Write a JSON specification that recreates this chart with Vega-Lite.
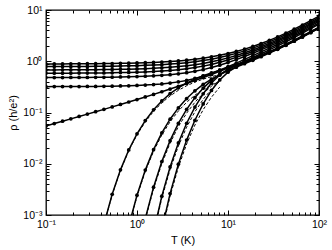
{
 "$schema": "https://vega.github.io/schema/vega-lite/v6.json",
 "width": 273, "height": 205,
 "autosize": {"type": "none"},
 "padding": {"left": 46, "top": 10, "right": 13, "bottom": 35},
 "background": "white",
 "config": {"view": {"stroke": "black", "strokeWidth": 1.3}, "font": "Liberation Sans"},
 "datasets": {
  "curves": [
{"c":0,"T":0.1,"r":0.886},{"c":0,"T":0.1233,"r":0.887},{"c":0,"T":0.152,"r":0.888},{"c":0,"T":0.1874,"r":0.890},{"c":0,"T":0.231,"r":0.891},{"c":0,"T":0.2848,"r":0.894},{"c":0,"T":0.3511,"r":0.896},{"c":0,"T":0.4329,"r":0.900},{"c":0,"T":0.5337,"r":0.904},{"c":0,"T":0.6579,"r":0.910},{"c":0,"T":0.8111,"r":0.916},{"c":0,"T":1,"r":0.925},{"c":0,"T":1.233,"r":0.936},{"c":0,"T":1.52,"r":0.950},{"c":0,"T":1.874,"r":0.967},{"c":0,"T":2.31,"r":0.989},{"c":0,"T":2.848,"r":1.016},{"c":0,"T":3.511,"r":1.051},{"c":0,"T":4.329,"r":1.094},{"c":0,"T":5.337,"r":1.149},{"c":0,"T":6.579,"r":1.218},{"c":0,"T":8.111,"r":1.304},{"c":0,"T":10,"r":1.413},{"c":0,"T":12.33,"r":1.551},{"c":0,"T":15.2,"r":1.724},{"c":0,"T":18.74,"r":1.941},{"c":0,"T":23.1,"r":2.216},{"c":0,"T":28.48,"r":2.560},{"c":0,"T":35.11,"r":2.992},{"c":0,"T":43.29,"r":3.540},{"c":0,"T":53.37,"r":4.232},{"c":0,"T":65.79,"r":5.095},{"c":0,"T":81.11,"r":6.192},{"c":0,"T":100,"r":7.557},
{"c":1,"T":0.1,"r":0.786},{"c":1,"T":0.1233,"r":0.787},{"c":1,"T":0.152,"r":0.788},{"c":1,"T":0.1874,"r":0.789},{"c":1,"T":0.231,"r":0.790},{"c":1,"T":0.2848,"r":0.792},{"c":1,"T":0.3511,"r":0.795},{"c":1,"T":0.4329,"r":0.798},{"c":1,"T":0.5337,"r":0.802},{"c":1,"T":0.6579,"r":0.807},{"c":1,"T":0.8111,"r":0.813},{"c":1,"T":1,"r":0.821},{"c":1,"T":1.233,"r":0.831},{"c":1,"T":1.52,"r":0.843},{"c":1,"T":1.874,"r":0.859},{"c":1,"T":2.31,"r":0.880},{"c":1,"T":2.848,"r":0.905},{"c":1,"T":3.511,"r":0.938},{"c":1,"T":4.329,"r":0.979},{"c":1,"T":5.337,"r":1.032},{"c":1,"T":6.579,"r":1.099},{"c":1,"T":8.111,"r":1.184},{"c":1,"T":10,"r":1.291},{"c":1,"T":12.33,"r":1.425},{"c":1,"T":15.2,"r":1.592},{"c":1,"T":18.74,"r":1.801},{"c":1,"T":23.1,"r":2.065},{"c":1,"T":28.48,"r":2.391},{"c":1,"T":35.11,"r":2.800},{"c":1,"T":43.29,"r":3.318},{"c":1,"T":53.37,"r":3.971},{"c":1,"T":65.79,"r":4.783},{"c":1,"T":81.11,"r":5.815},{"c":1,"T":100,"r":7.099},
{"c":2,"T":0.1,"r":0.678},{"c":2,"T":0.1233,"r":0.678},{"c":2,"T":0.152,"r":0.679},{"c":2,"T":0.1874,"r":0.680},{"c":2,"T":0.231,"r":0.681},{"c":2,"T":0.2848,"r":0.683},{"c":2,"T":0.3511,"r":0.685},{"c":2,"T":0.4329,"r":0.688},{"c":2,"T":0.5337,"r":0.691},{"c":2,"T":0.6579,"r":0.695},{"c":2,"T":0.8111,"r":0.701},{"c":2,"T":1,"r":0.708},{"c":2,"T":1.233,"r":0.717},{"c":2,"T":1.52,"r":0.729},{"c":2,"T":1.874,"r":0.743},{"c":2,"T":2.31,"r":0.762},{"c":2,"T":2.848,"r":0.786},{"c":2,"T":3.511,"r":0.817},{"c":2,"T":4.329,"r":0.857},{"c":2,"T":5.337,"r":0.908},{"c":2,"T":6.579,"r":0.975},{"c":2,"T":8.111,"r":1.059},{"c":2,"T":10,"r":1.164},{"c":2,"T":12.33,"r":1.297},{"c":2,"T":15.2,"r":1.461},{"c":2,"T":18.74,"r":1.663},{"c":2,"T":23.1,"r":1.916},{"c":2,"T":28.48,"r":2.228},{"c":2,"T":35.11,"r":2.616},{"c":2,"T":43.29,"r":3.106},{"c":2,"T":53.37,"r":3.721},{"c":2,"T":65.79,"r":4.487},{"c":2,"T":81.11,"r":5.458},{"c":2,"T":100,"r":6.667},
{"c":3,"T":0.1,"r":0.584},{"c":3,"T":0.1233,"r":0.585},{"c":3,"T":0.152,"r":0.586},{"c":3,"T":0.1874,"r":0.586},{"c":3,"T":0.231,"r":0.588},{"c":3,"T":0.2848,"r":0.589},{"c":3,"T":0.3511,"r":0.591},{"c":3,"T":0.4329,"r":0.593},{"c":3,"T":0.5337,"r":0.596},{"c":3,"T":0.6579,"r":0.600},{"c":3,"T":0.8111,"r":0.604},{"c":3,"T":1,"r":0.611},{"c":3,"T":1.233,"r":0.620},{"c":3,"T":1.52,"r":0.630},{"c":3,"T":1.874,"r":0.643},{"c":3,"T":2.31,"r":0.661},{"c":3,"T":2.848,"r":0.684},{"c":3,"T":3.511,"r":0.713},{"c":3,"T":4.329,"r":0.752},{"c":3,"T":5.337,"r":0.803},{"c":3,"T":6.579,"r":0.868},{"c":3,"T":8.111,"r":0.952},{"c":3,"T":10,"r":1.058},{"c":3,"T":12.33,"r":1.190},{"c":3,"T":15.2,"r":1.351},{"c":3,"T":18.74,"r":1.550},{"c":3,"T":23.1,"r":1.795},{"c":3,"T":28.48,"r":2.095},{"c":3,"T":35.11,"r":2.467},{"c":3,"T":43.29,"r":2.935},{"c":3,"T":53.37,"r":3.521},{"c":3,"T":65.79,"r":4.249},{"c":3,"T":81.11,"r":5.172},{"c":3,"T":100,"r":6.319},
{"c":4,"T":0.1,"r":0.480},{"c":4,"T":0.1233,"r":0.480},{"c":4,"T":0.152,"r":0.481},{"c":4,"T":0.1874,"r":0.482},{"c":4,"T":0.231,"r":0.483},{"c":4,"T":0.2848,"r":0.484},{"c":4,"T":0.3511,"r":0.485},{"c":4,"T":0.4329,"r":0.487},{"c":4,"T":0.5337,"r":0.490},{"c":4,"T":0.6579,"r":0.493},{"c":4,"T":0.8111,"r":0.498},{"c":4,"T":1,"r":0.503},{"c":4,"T":1.233,"r":0.510},{"c":4,"T":1.52,"r":0.520},{"c":4,"T":1.874,"r":0.532},{"c":4,"T":2.31,"r":0.548},{"c":4,"T":2.848,"r":0.569},{"c":4,"T":3.511,"r":0.598},{"c":4,"T":4.329,"r":0.636},{"c":4,"T":5.337,"r":0.686},{"c":4,"T":6.579,"r":0.752},{"c":4,"T":8.111,"r":0.836},{"c":4,"T":10,"r":0.943},{"c":4,"T":12.33,"r":1.075},{"c":4,"T":15.2,"r":1.235},{"c":4,"T":18.74,"r":1.430},{"c":4,"T":23.1,"r":1.669},{"c":4,"T":28.48,"r":1.959},{"c":4,"T":35.11,"r":2.315},{"c":4,"T":43.29,"r":2.761},{"c":4,"T":53.37,"r":3.319},{"c":4,"T":65.79,"r":4.010},{"c":4,"T":81.11,"r":4.885},{"c":4,"T":100,"r":5.972},
{"c":5,"T":0.1,"r":0.319},{"c":5,"T":0.1233,"r":0.320},{"c":5,"T":0.152,"r":0.320},{"c":5,"T":0.1874,"r":0.320},{"c":5,"T":0.231,"r":0.321},{"c":5,"T":0.2848,"r":0.322},{"c":5,"T":0.3511,"r":0.323},{"c":5,"T":0.4329,"r":0.325},{"c":5,"T":0.5337,"r":0.327},{"c":5,"T":0.6579,"r":0.329},{"c":5,"T":0.8111,"r":0.332},{"c":5,"T":1,"r":0.337},{"c":5,"T":1.233,"r":0.343},{"c":5,"T":1.52,"r":0.350},{"c":5,"T":1.874,"r":0.361},{"c":5,"T":2.31,"r":0.376},{"c":5,"T":2.848,"r":0.396},{"c":5,"T":3.511,"r":0.423},{"c":5,"T":4.329,"r":0.461},{"c":5,"T":5.337,"r":0.512},{"c":5,"T":6.579,"r":0.581},{"c":5,"T":8.111,"r":0.670},{"c":5,"T":10,"r":0.783},{"c":5,"T":12.33,"r":0.921},{"c":5,"T":15.2,"r":1.087},{"c":5,"T":18.74,"r":1.284},{"c":5,"T":23.1,"r":1.521},{"c":5,"T":28.48,"r":1.805},{"c":5,"T":35.11,"r":2.149},{"c":5,"T":43.29,"r":2.577},{"c":5,"T":53.37,"r":3.108},{"c":5,"T":65.79,"r":3.764},{"c":5,"T":81.11,"r":4.592},{"c":5,"T":100,"r":5.619},
{"c":6,"T":0.1,"r":0.0547},{"c":6,"T":0.1233,"r":0.0608},{"c":6,"T":0.152,"r":0.0676},{"c":6,"T":0.1874,"r":0.0751},{"c":6,"T":0.231,"r":0.0836},{"c":6,"T":0.2848,"r":0.0930},{"c":6,"T":0.3511,"r":0.1035},{"c":6,"T":0.4329,"r":0.1152},{"c":6,"T":0.5337,"r":0.1286},{"c":6,"T":0.6579,"r":0.1435},{"c":6,"T":0.8111,"r":0.1603},{"c":6,"T":1,"r":0.1793},{"c":6,"T":1.233,"r":0.2009},{"c":6,"T":1.52,"r":0.2257},{"c":6,"T":1.874,"r":0.2540},{"c":6,"T":2.31,"r":0.2867},{"c":6,"T":2.848,"r":0.3245},{"c":6,"T":3.511,"r":0.3684},{"c":6,"T":4.329,"r":0.4197},{"c":6,"T":5.337,"r":0.4803},{"c":6,"T":6.579,"r":0.5521},{"c":6,"T":8.111,"r":0.6371},{"c":6,"T":10,"r":0.7385},{"c":6,"T":12.33,"r":0.8604},{"c":6,"T":15.2,"r":1.006},{"c":6,"T":18.74,"r":1.183},{"c":6,"T":23.1,"r":1.401},{"c":6,"T":28.48,"r":1.664},{"c":6,"T":35.11,"r":1.989},{"c":6,"T":43.29,"r":2.397},{"c":6,"T":53.37,"r":2.904},{"c":6,"T":65.79,"r":3.530},{"c":6,"T":81.11,"r":4.320},{"c":6,"T":100,"r":5.304},
{"c":7,"T":0.4329,"r":0.000658},{"c":7,"T":0.5337,"r":0.00254},{"c":7,"T":0.6579,"r":0.0076},{"c":7,"T":0.8111,"r":0.01856},{"c":7,"T":1,"r":0.0384},{"c":7,"T":1.233,"r":0.0696},{"c":7,"T":1.52,"r":0.1131},{"c":7,"T":1.874,"r":0.1681},{"c":7,"T":2.31,"r":0.2326},{"c":7,"T":2.848,"r":0.3029},{"c":7,"T":3.511,"r":0.3755},{"c":7,"T":4.329,"r":0.4480},{"c":7,"T":5.337,"r":0.5199},{"c":7,"T":6.579,"r":0.5927},{"c":7,"T":8.111,"r":0.6696},{"c":7,"T":10,"r":0.7542},{"c":7,"T":12.33,"r":0.8523},{"c":7,"T":15.2,"r":0.9674},{"c":7,"T":18.74,"r":1.107},{"c":7,"T":23.1,"r":1.280},{"c":7,"T":28.48,"r":1.492},{"c":7,"T":35.11,"r":1.757},{"c":7,"T":43.29,"r":2.091},{"c":7,"T":53.37,"r":2.512},{"c":7,"T":65.79,"r":3.035},{"c":7,"T":81.11,"r":3.699},{"c":7,"T":100,"r":4.525},
{"c":8,"T":0.8111,"r":0.000609},{"c":8,"T":1,"r":0.002433},{"c":8,"T":1.233,"r":0.007512},{"c":8,"T":1.52,"r":0.01882},{"c":8,"T":1.874,"r":0.03989},{"c":8,"T":2.31,"r":0.0739},{"c":8,"T":2.848,"r":0.1229},{"c":8,"T":3.511,"r":0.1870},{"c":8,"T":4.329,"r":0.2648},{"c":8,"T":5.337,"r":0.3529},{"c":8,"T":6.579,"r":0.4480},{"c":8,"T":8.111,"r":0.5481},{"c":8,"T":10,"r":0.6535},{"c":8,"T":12.33,"r":0.7680},{"c":8,"T":15.2,"r":0.8958},{"c":8,"T":18.74,"r":1.045},{"c":8,"T":23.1,"r":1.224},{"c":8,"T":28.48,"r":1.440},{"c":8,"T":35.11,"r":1.707},{"c":8,"T":43.29,"r":2.042},{"c":8,"T":53.37,"r":2.460},{"c":8,"T":65.79,"r":2.981},{"c":8,"T":81.11,"r":3.640},{"c":8,"T":100,"r":4.460},
{"c":9,"T":1.233,"r":0.000852},{"c":9,"T":1.52,"r":0.003491},{"c":9,"T":1.874,"r":0.01102},{"c":9,"T":2.31,"r":0.02823},{"c":9,"T":2.848,"r":0.06108},{"c":9,"T":3.511,"r":0.1153},{"c":9,"T":4.329,"r":0.1950},{"c":9,"T":5.337,"r":0.2995},{"c":9,"T":6.579,"r":0.4228},{"c":9,"T":8.111,"r":0.5543},{"c":9,"T":10,"r":0.6860},{"c":9,"T":12.33,"r":0.8193},{"c":9,"T":15.2,"r":0.9583},{"c":9,"T":18.74,"r":1.116},{"c":9,"T":23.1,"r":1.301},{"c":9,"T":28.48,"r":1.524},{"c":9,"T":35.11,"r":1.799},{"c":9,"T":43.29,"r":2.143},{"c":9,"T":53.37,"r":2.575},{"c":9,"T":65.79,"r":3.111},{"c":9,"T":81.11,"r":3.790},{"c":9,"T":100,"r":4.637},
{"c":10,"T":1.52,"r":0.000464},{"c":10,"T":1.874,"r":0.002331},{"c":10,"T":2.31,"r":0.008669},{"c":10,"T":2.848,"r":0.02545},{"c":10,"T":3.511,"r":0.0616},{"c":10,"T":4.329,"r":0.1277},{"c":10,"T":5.337,"r":0.2322},{"c":10,"T":6.579,"r":0.3750},{"c":10,"T":8.111,"r":0.5376},{"c":10,"T":10,"r":0.6949},{"c":10,"T":12.33,"r":0.8388},{"c":10,"T":15.2,"r":0.9794},{"c":10,"T":18.74,"r":1.132},{"c":10,"T":23.1,"r":1.312},{"c":10,"T":28.48,"r":1.528},{"c":10,"T":35.11,"r":1.795},{"c":10,"T":43.29,"r":2.131},{"c":10,"T":53.37,"r":2.555},{"c":10,"T":65.79,"r":3.080},{"c":10,"T":81.11,"r":3.747},{"c":10,"T":100,"r":4.578},
{"c":11,"T":1.874,"r":0.000519},{"c":11,"T":2.31,"r":0.002616},{"c":11,"T":2.848,"r":0.009792},{"c":11,"T":3.511,"r":0.02891},{"c":11,"T":4.329,"r":0.07051},{"c":11,"T":5.337,"r":0.1472},{"c":11,"T":6.579,"r":0.2691},{"c":11,"T":8.111,"r":0.4328},{"c":11,"T":10,"r":0.6117},{"c":11,"T":12.33,"r":0.7780},{"c":11,"T":15.2,"r":0.9305},{"c":11,"T":18.74,"r":1.086},{"c":11,"T":23.1,"r":1.264},{"c":11,"T":28.48,"r":1.474},{"c":11,"T":35.11,"r":1.734},{"c":11,"T":43.29,"r":2.058},{"c":11,"T":53.37,"r":2.466},{"c":11,"T":65.79,"r":2.973},{"c":11,"T":81.11,"r":3.618},{"c":11,"T":100,"r":4.420}
  ],
  "fits": [
{"c":7,"T":0.4329,"r":0.000646},{"c":7,"T":0.5337,"r":0.002478},{"c":7,"T":0.6579,"r":0.007378},{"c":7,"T":0.8111,"r":0.01788},{"c":7,"T":1,"r":0.03665},{"c":7,"T":1.233,"r":0.06563},{"c":7,"T":1.52,"r":0.1053},{"c":7,"T":1.874,"r":0.1544},{"c":7,"T":2.31,"r":0.2106},{"c":7,"T":2.848,"r":0.2710},{"c":7,"T":3.511,"r":0.3325},{"c":7,"T":4.329,"r":0.3925},{"c":7,"T":5.337,"r":0.4490},{"c":7,"T":6.579,"r":0.5007},{"c":7,"T":8.111,"r":0.5471},
{"c":8,"T":0.8111,"r":0.000587},{"c":8,"T":1,"r":0.002322},{"c":8,"T":1.233,"r":0.007086},{"c":8,"T":1.52,"r":0.01749},{"c":8,"T":1.874,"r":0.03642},{"c":8,"T":2.31,"r":0.06601},{"c":8,"T":2.848,"r":0.1070},{"c":8,"T":3.511,"r":0.1582},{"c":8,"T":4.329,"r":0.2174},{"c":8,"T":5.337,"r":0.2812},{"c":8,"T":6.579,"r":0.3465},{"c":8,"T":8.111,"r":0.4106},
{"c":9,"T":1.233,"r":0.000804},{"c":9,"T":1.52,"r":0.003246},{"c":9,"T":1.874,"r":0.01006},{"c":9,"T":2.31,"r":0.02521},{"c":9,"T":2.848,"r":0.05308},{"c":9,"T":3.511,"r":0.09710},{"c":9,"T":4.329,"r":0.1586},{"c":9,"T":5.337,"r":0.2358},{"c":9,"T":6.579,"r":0.3255},{"c":9,"T":8.111,"r":0.4229},
{"c":10,"T":1.52,"r":0.000431},{"c":10,"T":1.874,"r":0.002128},{"c":10,"T":2.31,"r":0.00774},{"c":10,"T":2.848,"r":0.02211},{"c":10,"T":3.511,"r":0.05178},{"c":10,"T":4.329,"r":0.1033},{"c":10,"T":5.337,"r":0.1807},{"c":10,"T":6.579,"r":0.2846},{"c":10,"T":8.111,"r":0.4111},
{"c":11,"T":1.874,"r":0.000474},{"c":11,"T":2.31,"r":0.002336},{"c":11,"T":2.848,"r":0.008507},{"c":11,"T":3.511,"r":0.02429},{"c":11,"T":4.329,"r":0.05694},{"c":11,"T":5.337,"r":0.1135},{"c":11,"T":6.579,"r":0.1987},{"c":11,"T":8.111,"r":0.3129}
  ]
 },
 "layer": [
  {
   "data": {"name": "curves"},
   "mark": {"type": "line", "color": "black", "strokeWidth": 1.5, "clip": true},
   "encoding": {
    "x": {"field": "T", "type": "quantitative",
     "scale": {"type": "log", "domain": [0.1, 100], "nice": false},
     "axis": {"orient": "bottom", "values": [0.1,0.2,0.3,0.4,0.5,0.6,0.7,0.8,0.9,1,2,3,4,5,6,7,8,9,10,20,30,40,50,60,70,80,90,100],
      "domain": false, "grid": false, "tickColor": "black", "tickWidth": 1,
      "tickSize": {"condition": {"test": "abs(log(datum.value)/LN10 - round(log(datum.value)/LN10)) < 0.001", "value": -5}, "value": -3},
      "labelExpr": "abs(log(datum.value)/LN10 - round(log(datum.value)/LN10)) < 0.001 ? ('10' + (round(log(datum.value)/LN10) == -3 ? '⁻³' : round(log(datum.value)/LN10) == -2 ? '⁻²' : round(log(datum.value)/LN10) == -1 ? '⁻¹' : round(log(datum.value)/LN10) == 0 ? '⁰' : round(log(datum.value)/LN10) == 1 ? '¹' : '²')) : ''",
      "labelOverlap": false, "labelFlush": false, "labelBound": false,
      "labelFont": "Liberation Sans", "labelFontSize": 10.5, "labelColor": "black", "labelPadding": 9,
      "title": "T (K)", "titleFont": "Liberation Sans", "titleFontSize": 11, "titleFontWeight": "normal", "titleColor": "black", "titlePadding": 3}},
    "y": {"field": "r", "type": "quantitative",
     "scale": {"type": "log", "domain": [0.001, 10], "nice": false},
     "axis": {"orient": "left", "values": [0.001,0.002,0.003,0.004,0.005,0.006,0.007,0.008,0.009,0.01,0.02,0.03,0.04,0.05,0.06,0.07,0.08,0.09,0.1,0.2,0.3,0.4,0.5,0.6,0.7,0.8,0.9,1,2,3,4,5,6,7,8,9,10],
      "domain": false, "grid": false, "tickColor": "black", "tickWidth": 1,
      "tickSize": {"condition": {"test": "abs(log(datum.value)/LN10 - round(log(datum.value)/LN10)) < 0.001", "value": -5}, "value": -3},
      "labelExpr": "abs(log(datum.value)/LN10 - round(log(datum.value)/LN10)) < 0.001 ? ('10' + (round(log(datum.value)/LN10) == -3 ? '⁻³' : round(log(datum.value)/LN10) == -2 ? '⁻²' : round(log(datum.value)/LN10) == -1 ? '⁻¹' : round(log(datum.value)/LN10) == 0 ? '⁰' : round(log(datum.value)/LN10) == 1 ? '¹' : '²')) : ''",
      "labelOverlap": false, "labelFlush": false, "labelBound": false,
      "labelFont": "Liberation Sans", "labelFontSize": 10.5, "labelColor": "black", "labelPadding": 9,
      "title": "ρ (h/e²)", "titleFont": "Liberation Sans", "titleFontSize": 11, "titleFontWeight": "normal", "titleColor": "black", "titlePadding": 4}},
    "detail": {"field": "c", "type": "nominal"}
   }
  },
  {
   "data": {"name": "curves"},
   "mark": {"type": "point", "filled": true, "shape": "circle", "size": 14, "color": "black", "opacity": 1, "clip": true},
   "encoding": {
    "x": {"field": "T", "type": "quantitative", "axis": null},
    "y": {"field": "r", "type": "quantitative", "axis": null}
   }
  },
  {
   "data": {"name": "fits"},
   "mark": {"type": "line", "color": "black", "strokeWidth": 1, "strokeDash": [3, 2], "clip": true},
   "encoding": {
    "x": {"field": "T", "type": "quantitative",
     "axis": {"orient": "top", "values": [0.1,0.2,0.3,0.4,0.5,0.6,0.7,0.8,0.9,1,2,3,4,5,6,7,8,9,10,20,30,40,50,60,70,80,90,100],
      "domain": false, "grid": false, "labels": false, "title": null, "tickColor": "black", "tickWidth": 1,
      "tickSize": {"condition": {"test": "abs(log(datum.value)/LN10 - round(log(datum.value)/LN10)) < 0.001", "value": -5}, "value": -3}}},
    "y": {"field": "r", "type": "quantitative",
     "axis": {"orient": "right", "values": [0.001,0.002,0.003,0.004,0.005,0.006,0.007,0.008,0.009,0.01,0.02,0.03,0.04,0.05,0.06,0.07,0.08,0.09,0.1,0.2,0.3,0.4,0.5,0.6,0.7,0.8,0.9,1,2,3,4,5,6,7,8,9,10],
      "domain": false, "grid": false, "labels": false, "title": null, "tickColor": "black", "tickWidth": 1,
      "tickSize": {"condition": {"test": "abs(log(datum.value)/LN10 - round(log(datum.value)/LN10)) < 0.001", "value": -5}, "value": -3}}},
    "detail": {"field": "c", "type": "nominal"}
   }
  }
 ],
 "resolve": {"axis": {"x": "independent", "y": "independent"}}
}
